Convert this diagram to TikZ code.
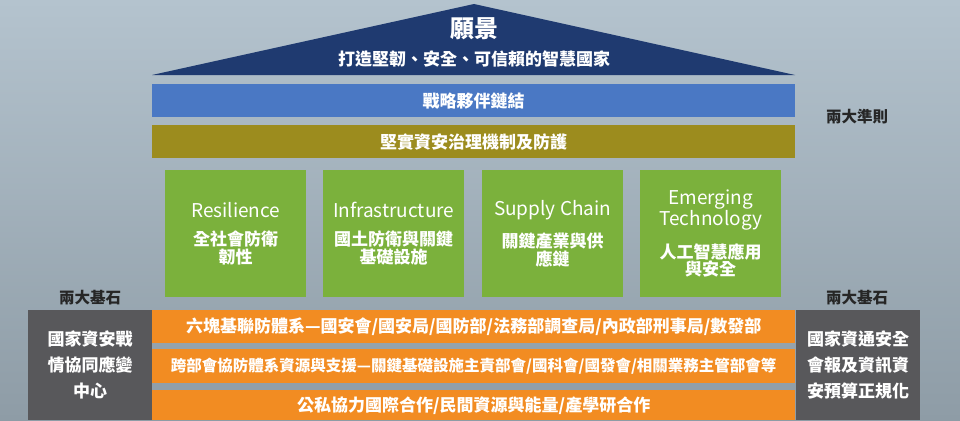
\documentclass[tikz,border=0pt]{standalone}
\usepackage{fontspec}
\setmainfont{Noto Sans CJK TC}
\usetikzlibrary{positioning}
\definecolor{navy}{HTML}{1F3A70}
\definecolor{barblue}{HTML}{4A78C4}
\definecolor{olive}{HTML}{9C8C1E}
\definecolor{leaf}{HTML}{7BB13C}
\definecolor{amber}{HTML}{F28C22}
\definecolor{slate}{HTML}{58585B}
\definecolor{bgtop}{HTML}{B4C3CE}
\definecolor{bgbot}{HTML}{8E9CA6}
\newcommand{\ptitle}{\fontsize{19}{23}\selectfont}
\newcommand{\pcjk}{\fontsize{17}{22}\selectfont\bfseries}
\begin{document}
\begin{tikzpicture}[x=1pt, y=-1pt,
  bar/.style={anchor=north west, minimum width=643pt, inner sep=0pt, text=white, font=\fontsize{17}{20}\selectfont\bfseries},
  pillar/.style={anchor=north west, fill=leaf, minimum width=141pt, minimum height=127pt, inner sep=0pt, text=white, align=center},
  base/.style={anchor=north west, fill=slate, minimum width=124pt, minimum height=110pt, inner sep=0pt, text=white, align=center, font=\fontsize{17}{26}\selectfont\bfseries},
  tag/.style={font=\fontsize{15.5}{18}\selectfont\bfseries, text=black!85}
]
\shade[top color=bgtop, bottom color=bgbot] (0,0) rectangle (960,420);
\useasboundingbox (0,0) rectangle (960,420);

% roof
\fill[navy] (152,75) -- (474,4) -- (795,75) -- cycle;
\node (vision) [text=white, font=\fontsize{24}{26}\selectfont\bfseries] at (474,29) {願景};
\node (goal) [text=white, font=\fontsize{17}{20}\selectfont\bfseries] at (474,59) {打造堅韌、安全、可信賴的智慧國家};

% bars
\node (partner) [bar, fill=barblue, minimum height=33pt] at (152,84) {戰略夥伴鏈結};
\node (govern) [bar, fill=olive, minimum height=33pt] at (152,125) {堅實資安治理機制及防護};
\node (rules) [tag] at (857,117) {兩大準則};

% pillars
\node (resil) [pillar] at (165,170) {\ptitle Resilience\\[12pt]\pcjk 全社會防衛\\\pcjk 韌性};
\node (infra) [pillar] at (323,170) {\ptitle Infrastructure\\[12pt]\pcjk 國土防衛與關鍵\\\pcjk 基礎設施};
\node (supply) [pillar] at (482,170) {\ptitle Supply Chain\\[12pt]\pcjk 關鍵產業與供\\\pcjk 應鏈};
\node (emerg) [pillar] at (640,170) {\ptitle Emerging\\\ptitle Technology\\[12pt]\pcjk 人工智慧應用\\\pcjk 與安全};

% foundations
\node (joint) [bar, fill=amber, minimum height=33pt] at (152,310) {六塊基聯防體系—國安會/國安局/國防部/法務部調查局/內政部刑事局/數發部};
\node (cross) [bar, fill=amber, minimum height=34pt, font=\fontsize{15.5}{18}\selectfont\bfseries] at (152,349) {跨部會協防體系資源與支援—關鍵基礎設施主責部會/國科會/國發會/相關業務主管部會等};
\node (public) [bar, fill=amber, minimum height=30pt] at (152,390) {公私協力國際合作/民間資源與能量/產學研合作};

\node (leftbase) [base] at (28,310) {國家資安戰\\情協同應變\\中心};
\node (rightbase) [base] at (796,310) {國家資通安全\\會報及資訊資\\安預算正規化};
\node (stoneL) [tag] at (90,298) {兩大基石};
\node (stoneR) [tag] at (857,298) {兩大基石};

\end{tikzpicture}
\end{document}
